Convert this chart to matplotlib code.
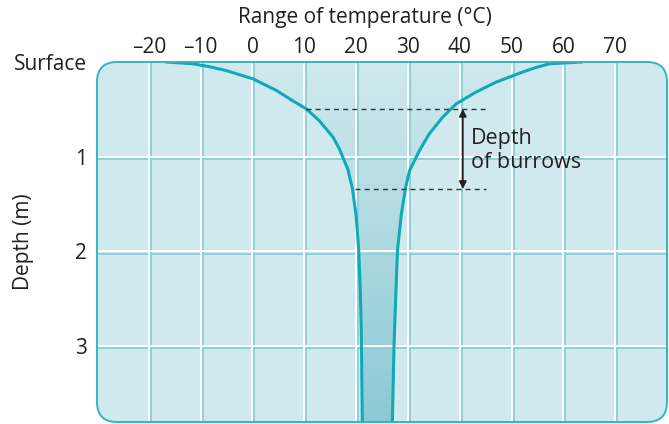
import numpy as np
import matplotlib
matplotlib.use("Agg")
import matplotlib.pyplot as plt
from matplotlib.patches import FancyBboxPatch, Polygon
import matplotlib.transforms as mtransforms

plt.rcParams['font.family'] = ['Open Sans', 'DejaVu Sans']

# ---- data ----
depth_min = [0.0, 0.019, 0.05, 0.09, 0.178, 0.30, 0.41, 0.495, 0.62, 0.79, 0.92, 1.04,
             1.13, 1.34, 1.62, 1.98, 2.40, 2.82, 3.30, 3.80]
temp_min = [-16.6, -11.5, -8.3, -5.1, 0.1, 4.6, 7.8, 10.4, 12.9, 15.5, 16.8, 17.7,
            18.4, 19.3, 20.0, 20.5, 20.8, 21.0, 21.1, 21.2]
depth_max = [0.0, 0.019, 0.06, 0.107, 0.213, 0.319, 0.442, 0.583, 0.76, 0.937, 1.148,
             1.34, 1.62, 1.98, 2.40, 3.03, 3.80]
temp_max = [63.5, 57.3, 54.6, 52.1, 47.0, 43.1, 39.3, 36.7, 34.1, 32.2, 30.3,
            29.5, 28.7, 28.0, 27.7, 27.3, 27.0]

temp_ticks = [-20, -10, 0, 10, 20, 30, 40, 50, 60, 70]
temp_tick_labels = ['\u201320', '\u201310', '0', '10', '20', '30', '40', '50', '60', '70']
depth_ticks = [0, 1, 2, 3]
depth_tick_labels = ['Surface', '1', '2', '3']

burrow_top = 0.495
burrow_bottom = 1.34
burrow_line_start = [10.4, 19.8]
burrow_line_end = 45
arrow_temp = 40.6

# ---- figure ----
W, H = 669, 424
fig = plt.figure(figsize=(W / 100, H / 100), dpi=100)
ax_l, ax_r, ax_t, ax_b = 97, 667, 62, 422
ax = fig.add_axes([ax_l / W, 1 - ax_b / H, (ax_r - ax_l) / W, (ax_b - ax_t) / H])
ax.set_xlim(-30, 80)
ax.set_ylim(3.8, 0)
for s in ax.spines.values():
    s.set_visible(False)
ax.patch.set_visible(False)

bg = '#d0e9ee'
border = '#30b6c4'
curve_c = '#0faab9'
grid_shadow = '#90d0da'
txt = '#231f20'

aw, ah = ax_r - ax_l, ax_b - ax_t
rad_px = 20
box = FancyBboxPatch((0, 0), 1, 1,
                     boxstyle=f"round,pad=0,rounding_size={rad_px / aw}",
                     mutation_aspect=aw / ah,
                     transform=ax.transAxes, facecolor=bg, edgecolor='none',
                     zorder=0, clip_on=False)
ax.add_patch(box)

# gradient between curves
verts = list(zip(temp_min, depth_min)) + list(zip(temp_max[::-1], depth_max[::-1]))
pg = Polygon(verts, closed=True, facecolor='none', edgecolor='none', transform=ax.transData)
ax.add_patch(pg)
c0 = np.array(matplotlib.colors.to_rgb(bg))
c1 = np.array(matplotlib.colors.to_rgb('#8cc9d4'))
t = np.linspace(0, 1, 256)[:, None]
grad = (c0[None, :] * (1 - t) + c1[None, :] * t)[:, None, :]
im = ax.imshow(grad, extent=[-30, 80, 3.8, 0], aspect='auto', zorder=1, interpolation='bilinear')
im.set_clip_path(pg)

# grid lines (white with teal shadow)
off_x = mtransforms.offset_copy(ax.transData, fig=fig, x=2.0, y=0, units='dots')
off_y = mtransforms.offset_copy(ax.transData, fig=fig, x=0, y=-2.2, units='dots')
for xv in temp_ticks:
    l1, = ax.plot([xv, xv], [0, 3.8], color=grid_shadow, lw=1.4, transform=off_x, zorder=2)
    l2, = ax.plot([xv, xv], [0, 3.8], color='white', lw=1.4, zorder=2.1)
    l1.set_clip_path(box); l2.set_clip_path(box)
for yv in depth_ticks[1:]:
    l1, = ax.plot([-30, 80], [yv, yv], color=grid_shadow, lw=1.4, transform=off_y, zorder=2)
    l2, = ax.plot([-30, 80], [yv, yv], color='white', lw=1.4, zorder=2.1)
    l1.set_clip_path(box); l2.set_clip_path(box)

# curves
for tt, dd in ((temp_min, depth_min), (temp_max, depth_max)):
    ln, = ax.plot(tt, dd, color=curve_c, lw=2.2, zorder=4, solid_joinstyle='round')
    ln.set_clip_path(box)

# border
bd = FancyBboxPatch((0, 0), 1, 1,
                    boxstyle=f"round,pad=0,rounding_size={rad_px / aw}",
                    mutation_aspect=aw / ah,
                    transform=ax.transAxes, facecolor='none', edgecolor=border,
                    lw=1.4, zorder=6, clip_on=False)
ax.add_patch(bd)

# burrow depth markers
for d, x0 in zip([burrow_top, burrow_bottom], burrow_line_start):
    ax.plot([x0, burrow_line_end], [d, d], color='#333333', lw=1.0,
            linestyle=(0, (3.6, 3.0)), zorder=5)
ax.annotate('', xy=(arrow_temp, burrow_top), xytext=(arrow_temp, burrow_bottom),
            arrowprops=dict(arrowstyle='<|-|>', color='#222222', lw=1.2,
                            mutation_scale=11, shrinkA=0, shrinkB=0), zorder=5)
ax.text(42.2, 0.93, 'Depth\nof burrows', fontsize=15.5, color=txt,
        ha='left', va='center', linespacing=1.2, zorder=5)

# ticks
ax.xaxis.tick_top()
ax.set_xticks(temp_ticks)
ax.set_xticklabels(temp_tick_labels, fontsize=15, color=txt)
ax.set_yticks(depth_ticks)
ax.set_yticklabels(depth_tick_labels, fontsize=15, color=txt)
ax.tick_params(axis='both', length=0)
ax.tick_params(axis='x', pad=3)
ax.tick_params(axis='y', pad=7)
ax.xaxis.set_label_position('top')
ax.set_xlabel('Range of temperature (\u00b0C)', fontsize=15, color=txt, va='center')
ax.xaxis.set_label_coords((365 - ax_l) / aw, (ax_b - 18) / ah)
ax.set_ylabel('Depth (m)', fontsize=15, color=txt, va='center')
ax.yaxis.set_label_coords((24 - ax_l) / aw, (ax_b - 242) / ah)

fig.savefig('out.png', dpi=100)
